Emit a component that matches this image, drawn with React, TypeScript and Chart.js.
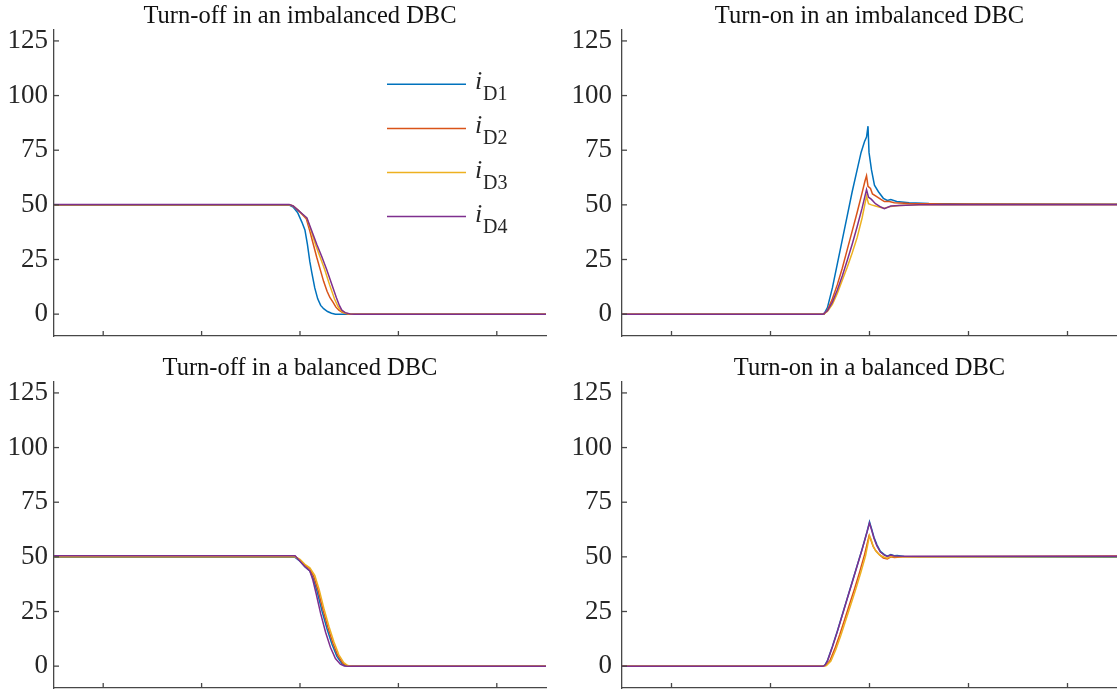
import { useEffect, useRef } from "react";
import { Chart, registerables } from "chart.js";

Chart.register(...registerables);

// ---------- data ----------
const SERIES_NAMES = ["D1", "D2", "D3", "D4"];
const SERIES_COLORS = ["#0072BD", "#D95319", "#EDB120", "#7E2F8E"];
const Y_TICKS = [0, 25, 50, 75, 100, 125];
const X_TICKS = [10, 30, 50, 70, 90];
const TITLES = [
  "Turn-off in an imbalanced DBC",
  "Turn-on in an imbalanced DBC",
  "Turn-off in a balanced DBC",
  "Turn-on in a balanced DBC",
];

type Pt = [number, number];

// Turn-off, imbalanced DBC
const offImbD1: Pt[] = [[0, 49.8], [47.8, 49.9], [48.6, 49], [49.5, 46.5], [50.4, 42], [51, 38.5], [51.5, 32], [52, 24], [52.4, 19], [53, 12], [53.6, 7], [54.2, 4], [54.8, 2.5], [55.6, 1.2], [56.4, 0.4], [57.2, 0], [100, 0]];
const offImbD2: Pt[] = [[0, 50.1], [47.8, 50.1], [48.6, 49.5], [49.6, 47.5], [50.5, 45.5], [51.3, 43.5], [52, 38], [52.7, 32], [53.4, 26], [54.1, 20.5], [54.8, 15], [55.5, 10.5], [56.1, 7.5], [56.7, 5.5], [57.3, 3.2], [57.9, 1.8], [58.5, 0.9], [59.3, 0.3], [60, 0], [100, 0]];
const offImbD3: Pt[] = [[0, 50.1], [47.8, 50.1], [48.6, 49.5], [49.6, 47.6], [50.5, 45.7], [51.4, 43.8], [52.3, 37.8], [53.2, 31.5], [54.1, 26], [55, 20.5], [56, 13.5], [57, 7], [57.7, 3.6], [58.3, 1.6], [59, 0.6], [60, 0.1], [60.8, 0], [100, 0]];
const offImbD4: Pt[] = [[0, 50.2], [47.8, 50.2], [48.6, 49.5], [49.6, 47.6], [50.5, 45.8], [51.4, 44], [52.4, 38], [53.4, 32], [54.4, 26.5], [55.4, 20.5], [56.4, 14], [57.4, 7.5], [58, 4], [58.5, 1.8], [59.2, 0.7], [60.2, 0.1], [61, 0], [100, 0]];

// Turn-on, imbalanced DBC
const onImbD1: Pt[] = [[0, 0], [40.8, 0], [41.5, 3], [42.5, 12], [43.5, 23], [44.5, 34], [45.5, 45], [46.5, 56], [47.5, 66], [48.3, 74], [49, 79], [49.4, 81], [49.7, 86], [49.9, 74], [50.4, 66], [51, 59], [51.8, 56], [52.8, 53], [53.6, 52], [54.3, 52.4], [55.5, 51.5], [58, 51], [62, 50.6], [70, 50.4], [100, 50.3]];
const onImbD2: Pt[] = [[0, 0], [40.8, 0], [41.5, 1.8], [42.5, 7], [43.5, 13.5], [44.5, 21], [45.5, 29.5], [46.5, 38], [47.5, 46.5], [48.5, 55.5], [49.1, 61], [49.4, 63.3], [49.7, 58.5], [50.2, 57.5], [50.6, 55], [51.3, 54], [52.3, 52.5], [53, 51.5], [54, 51.5], [55, 51], [58, 50.6], [65, 50.4], [100, 50.3]];
const onImbD3: Pt[] = [[0, 0], [40.6, 0], [41.5, 1.2], [42.5, 4.5], [43.5, 9.5], [44.5, 15.5], [45.5, 21.5], [46.5, 28], [47.5, 35], [48.5, 44], [49.4, 54], [49.8, 50.5], [50.4, 50], [51.2, 49.5], [52.3, 48.8], [53, 48.5], [54.3, 49.3], [56, 49.7], [60, 50], [100, 50]];
const onImbD4: Pt[] = [[0, 0], [40.6, 0], [41.5, 1.5], [42.5, 5.5], [43.5, 11], [44.5, 17.5], [45.5, 24.5], [46.5, 32], [47.5, 40], [48.5, 48.5], [49.4, 57], [49.8, 53.5], [50.4, 52.5], [51.2, 50.5], [52.3, 49], [53, 48.3], [54.3, 49.5], [56, 49.7], [60, 50], [100, 50]];

// Turn-off, balanced DBC
const offBalD1: Pt[] = [[0, 49.8], [49, 49.8], [50, 48], [51, 45.5], [52, 43.5], [52.7, 40], [53.5, 34], [54.5, 25], [55.5, 17], [56.5, 10], [57.5, 4.5], [58.5, 1.2], [59.2, 0.2], [60, 0], [100, 0]];
const offBalD2: Pt[] = [[0, 50.2], [49, 50.2], [50, 48.5], [51, 46.2], [52, 44.5], [52.8, 41], [53.7, 34.5], [54.7, 25.5], [55.7, 17.5], [56.7, 10.5], [57.7, 4.8], [58.7, 1.4], [59.5, 0.3], [60.3, 0], [100, 0]];
const offBalD3: Pt[] = [[0, 50], [49, 50], [50, 48.8], [51, 46.6], [52, 45], [53, 41.5], [53.9, 35], [54.9, 26], [55.9, 18], [56.9, 11], [57.9, 5.2], [58.9, 1.6], [59.7, 0.3], [60.5, 0], [100, 0]];
const offBalD4: Pt[] = [[0, 50.5], [49, 50.5], [50, 48], [51, 45.5], [52, 43.5], [52.6, 39.5], [53.3, 33], [54.2, 24], [55.2, 15.5], [56.2, 8.5], [57.2, 3.5], [58.2, 0.9], [59, 0.1], [60, 0], [100, 0]];

// Turn-on, balanced DBC
const onBalD1: Pt[] = [[0, 0], [40.6, 0], [41, 0.5], [41.5, 2.5], [42.5, 9], [43.5, 16], [44.5, 23.5], [45.5, 31], [46.5, 38.5], [47.5, 46], [48.5, 53.5], [49.5, 61.5], [50, 66], [50.4, 63], [50.9, 59], [51.5, 55.5], [52.2, 52.5], [53, 51], [53.6, 50.3], [54.3, 51], [55, 50.5], [55.6, 50.6], [57, 50.2], [60, 50], [100, 49.8]];
const onBalD2: Pt[] = [[0, 0], [40.6, 0], [41.2, 0.4], [42, 2.5], [43, 8], [44, 14.5], [45, 21.5], [46, 28.5], [47, 35.5], [48, 43], [49, 51], [49.9, 59.5], [50.2, 58.3], [50.7, 55], [51.2, 53], [52, 51], [52.8, 49.5], [53.6, 49], [54.3, 50], [55, 49.7], [57, 50], [100, 50.4]];
const onBalD3: Pt[] = [[0, 0], [40.6, 0], [41.3, 0.3], [42.2, 2.3], [43.2, 7.6], [44.2, 14], [45.2, 21], [46.2, 28], [47.2, 35], [48.2, 42.5], [49.2, 50.5], [50, 59.8], [50.3, 58], [50.8, 54.5], [51.4, 52.3], [52.2, 50.6], [53, 49.8], [53.6, 49.4], [54.3, 50.2], [56, 50], [100, 50]];
const onBalD4: Pt[] = [[0, 0], [40.6, 0], [41, 0.4], [41.5, 2.3], [42.5, 8.8], [43.5, 15.8], [44.5, 23.3], [45.5, 30.8], [46.5, 38.3], [47.5, 45.8], [48.5, 53.3], [49.5, 61.3], [50, 65.5], [50.4, 62.5], [50.9, 58.5], [51.5, 55], [52.2, 52.2], [53, 50.8], [53.6, 50.2], [54.3, 50.8], [55, 50.4], [57, 50.3], [100, 50.3]];

// ---------- styling ----------
const SERIF = '"Liberation Serif", "Times New Roman", serif';
const AXIS_COLOR = "#474747";
const TEXT_COLOR = "#262626";

type PanelDef = {
  title: string;
  series: Pt[][];
  legend: boolean;
  left: number;
  top: number;
  width: number;
  height: number;
  area: { left: number; right: number; top: number; bottom: number };
  labelPad: number;
};

const PANELS: PanelDef[] = [
  { title: TITLES[0], series: [offImbD1, offImbD2, offImbD3, offImbD4], legend: true, left: 0, top: 0, width: 560, height: 345, area: { left: 54, right: 546, top: 30, bottom: 336 }, labelPad: 6 },
  { title: TITLES[1], series: [onImbD1, onImbD2, onImbD3, onImbD4], legend: false, left: 560, top: 0, width: 557, height: 345, area: { left: 62, right: 557, top: 30, bottom: 336 }, labelPad: 10 },
  { title: TITLES[2], series: [offBalD1, offBalD2, offBalD3, offBalD4], legend: false, left: 0, top: 345, width: 560, height: 345, area: { left: 54, right: 546, top: 37, bottom: 343 }, labelPad: 6 },
  { title: TITLES[3], series: [onBalD1, onBalD2, onBalD3, onBalD4], legend: false, left: 560, top: 345, width: 557, height: 345, area: { left: 62, right: 557, top: 37, bottom: 343 }, labelPad: 10 },
];

function Panel({ def }: { def: PanelDef }) {
  const ref = useRef<HTMLCanvasElement | null>(null);

  useEffect(() => {
    const canvas = ref.current;
    if (!canvas) return;

    const deco = {
      id: "deco",
      afterDraw(chart: any) {
        const { ctx, chartArea, scales } = chart;
        const { left, right, top, bottom } = chartArea;
        ctx.save();
        ctx.strokeStyle = AXIS_COLOR;
        ctx.lineWidth = 1.3;
        // inward tick marks
        Y_TICKS.forEach((v) => {
          const p = scales.y.getPixelForValue(v);
          ctx.beginPath();
          ctx.moveTo(left, p);
          ctx.lineTo(left + 5, p);
          ctx.stroke();
        });
        X_TICKS.forEach((v) => {
          const p = scales.x.getPixelForValue(v);
          ctx.beginPath();
          ctx.moveTo(p, bottom);
          ctx.lineTo(p, bottom - 5);
          ctx.stroke();
        });
        // title
        ctx.fillStyle = "#111";
        ctx.font = `24.5px ${SERIF}`;
        ctx.textAlign = "center";
        ctx.textBaseline = "alphabetic";
        ctx.fillText(def.title, (left + right) / 2, top - 7);
        // legend
        if (def.legend) {
          chart.data.datasets.forEach((ds: any, i: number) => {
            const ly = 84.3 + 44.1 * i;
            ctx.strokeStyle = ds.borderColor;
            ctx.lineWidth = 1.5;
            ctx.beginPath();
            ctx.moveTo(387, ly);
            ctx.lineTo(466, ly);
            ctx.stroke();
            ctx.fillStyle = TEXT_COLOR;
            ctx.textAlign = "left";
            ctx.font = `italic 26px ${SERIF}`;
            ctx.fillText("i", 475, ly + 5);
            ctx.font = `20px ${SERIF}`;
            ctx.fillText(ds.label, 483, ly + 16);
          });
        }
        ctx.restore();
      },
    };

    const chart = new Chart(canvas, {
      type: "line",
      data: {
        datasets: def.series.map((s, i) => ({
          label: SERIES_NAMES[i],
          data: s.map(([x, y]) => ({ x, y })),
          borderColor: SERIES_COLORS[i],
          backgroundColor: SERIES_COLORS[i],
          borderWidth: 1.5,
          pointRadius: 0,
          tension: 0,
          fill: false,
          order: 3 - i,
        })),
      },
      options: {
        animation: false,
        responsive: false,
        devicePixelRatio: 1,
        parsing: false as any,
        events: [],
        layout: {
          padding: {
            left: 0,
            top: def.area.top,
            right: def.width - def.area.right,
            bottom: def.height - def.area.bottom,
          },
        },
        plugins: {
          legend: { display: false },
          title: { display: false },
          tooltip: { enabled: false },
        },
        scales: {
          x: {
            type: "linear",
            min: 0,
            max: 100,
            grid: { display: false, drawTicks: false },
            border: { display: true, color: AXIS_COLOR, width: 1.3 },
            ticks: { display: false },
            afterBuildTicks: (s: any) => {
              s.ticks = X_TICKS.map((v) => ({ value: v }));
            },
            afterFit: (s: any) => {
              s.height = 0;
              s.paddingLeft = 0;
              s.paddingRight = 0;
            },
          },
          y: {
            type: "linear",
            min: -10,
            max: 130,
            grid: { display: false, drawTicks: false },
            border: { display: true, color: AXIS_COLOR, width: 1.3 },
            ticks: {
              color: TEXT_COLOR,
              padding: def.labelPad,
              font: { family: SERIF, size: 27 },
              callback: (v: any) => String(v),
            },
            afterBuildTicks: (s: any) => {
              s.ticks = Y_TICKS.map((v) => ({ value: v }));
            },
            afterFit: (s: any) => {
              s.width = def.area.left;
              s.paddingTop = 0;
              s.paddingBottom = 0;
            },
          },
        },
      },
      plugins: [deco],
    } as any);

    return () => chart.destroy();
  }, [def]);

  return (
    <canvas
      ref={ref}
      width={def.width}
      height={def.height}
      style={{ position: "absolute", left: def.left, top: def.top, width: def.width, height: def.height }}
    />
  );
}

export default function App() {
  return (
    <div style={{ position: "absolute", left: 0, top: 0, width: 1117, height: 690, background: "#fff", overflow: "hidden" }}>
      {PANELS.map((p, i) => (
        <Panel key={i} def={p} />
      ))}
    </div>
  );
}
